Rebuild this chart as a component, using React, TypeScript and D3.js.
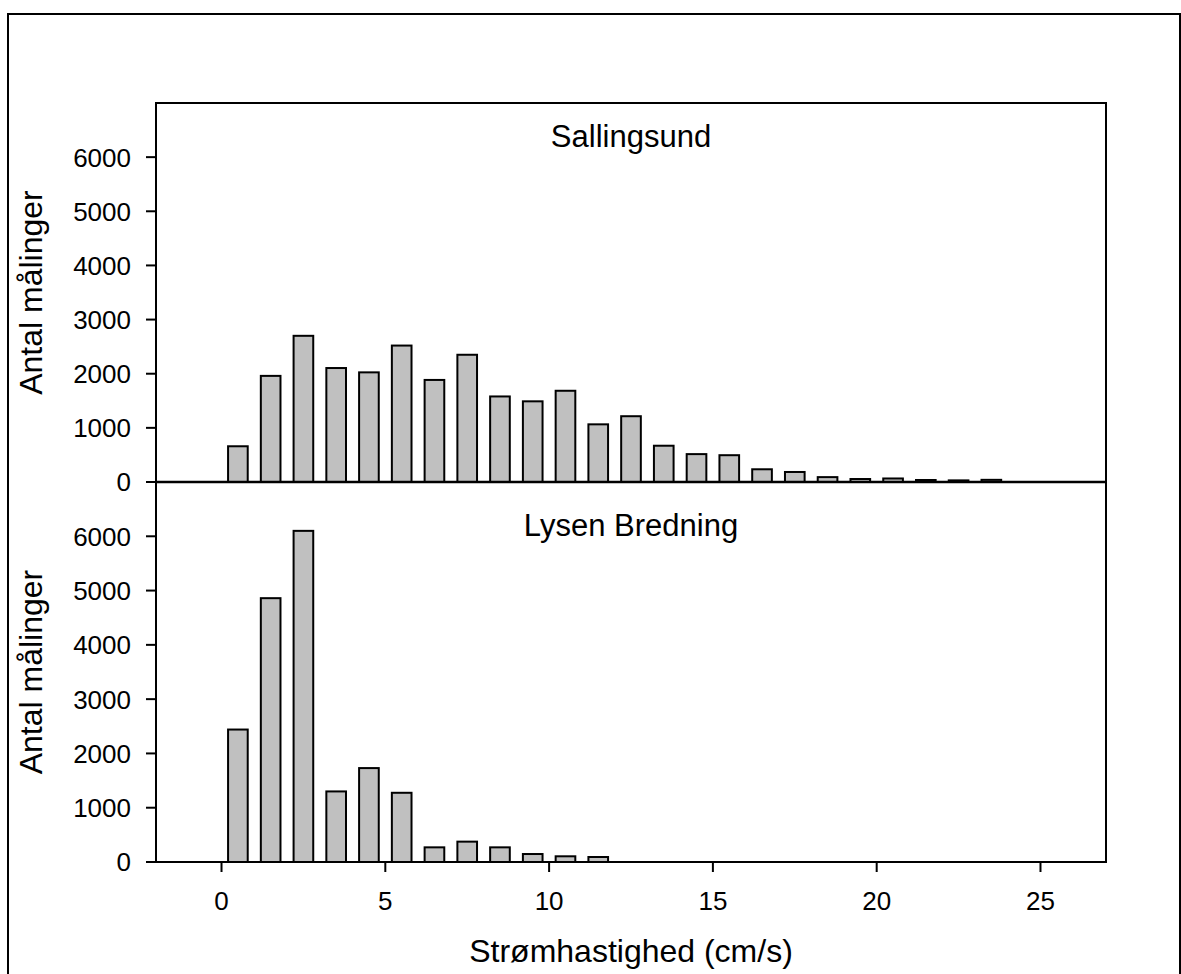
import React from "react";
import * as d3 from "d3";

const speedBins = [0.5, 1.5, 2.5, 3.5, 4.5, 5.5, 6.5, 7.5, 8.5, 9.5, 10.5, 11.5, 12.5, 13.5, 14.5, 15.5, 16.5, 17.5, 18.5, 19.5, 20.5, 21.5, 22.5, 23.5];
const sallingsund = [660, 1960, 2700, 2105, 2025, 2520, 1885, 2350, 1580, 1490, 1685, 1065, 1215, 670, 515, 495, 235, 185, 90, 55, 65, 37, 30, 40];
const lysenBredning = [2440, 4860, 6100, 1300, 1730, 1275, 270, 375, 270, 147, 105, 92, 0, 0, 0, 0, 0, 0, 0, 0, 0, 0, 0, 0];
const yTicks = [0, 1000, 2000, 3000, 4000, 5000, 6000];
const xTicks = [0, 5, 10, 15, 20, 25];
const panelTitles = ["Sallingsund", "Lysen Bredning"];
const yTitle = "Antal målinger";
const xTitle = "Strømhastighed (cm/s)";

const FONT = "Arial, 'Liberation Sans', sans-serif";

export default function App() {
  const W = 1181, H = 974;
  const left = 156, right = 1106;
  const x = d3.scaleLinear().domain([-2, 27]).range([left, right]);
  const yTop = d3.scaleLinear().domain([0, 7000]).range([482, 103]);
  const yBot = d3.scaleLinear().domain([0, 7000]).range([862, 482]);
  const halfW = 0.3;

  const panels = [
    { y: yTop, data: sallingsund, title: panelTitles[0], titleY: 147 },
    { y: yBot, data: lysenBredning, title: panelTitles[1], titleY: 536 },
  ];

  return (
    <svg width={W} height={H} style={{ position: "absolute", left: 0, top: 0, background: "#fff" }} fontFamily={FONT}>
      <rect x={8} y={14} width={1172} height={H} fill="none" stroke="#000" strokeWidth={2} />
      {panels.map((p, pi) => {
        const [y0, y1] = p.y.range();
        const cy = (y0 + y1) / 2;
        return (
          <g key={pi}>
            {p.data.map((v, i) =>
              v > 0 ? (
                <rect
                  key={i}
                  x={x(speedBins[i] - halfW)}
                  y={p.y(v)}
                  width={x(speedBins[i] + halfW) - x(speedBins[i] - halfW)}
                  height={p.y(0) - p.y(v)}
                  fill="#c0c0c0"
                  stroke="#000"
                  strokeWidth={2}
                />
              ) : null
            )}
            {yTicks.map((t) => (
              <g key={t}>
                <line x1={left - 10} x2={left} y1={p.y(t)} y2={p.y(t)} stroke="#000" strokeWidth={2} />
                <text x={131} y={p.y(t)} dy="0.36em" textAnchor="end" fontSize={26}>
                  {t}
                </text>
              </g>
            ))}
            <text
              transform={`translate(42,${cy}) rotate(-90)`}
              textAnchor="middle"
              fontSize={32}
            >
              {yTitle}
            </text>
            <text x={(left + right) / 2} y={p.titleY} textAnchor="middle" fontSize={31}>
              {p.title}
            </text>
          </g>
        );
      })}
      {/* frames */}
      <path d={`M${left},482 V103 H${right} V482`} fill="none" stroke="#000" strokeWidth={2} />
      <path d={`M${left},482 V862 H${right} V482`} fill="none" stroke="#000" strokeWidth={2} />
      <line x1={left} x2={right} y1={482} y2={482} stroke="#000" strokeWidth={2.5} />
      {xTicks.map((t) => (
        <g key={t}>
          <line x1={x(t)} x2={x(t)} y1={862} y2={872} stroke="#000" strokeWidth={2} />
          <text x={x(t)} y={910} textAnchor="middle" fontSize={26}>
            {t}
          </text>
        </g>
      ))}
      <text x={(left + right) / 2} y={962} textAnchor="middle" fontSize={32}>
        {xTitle}
      </text>
    </svg>
  );
}
